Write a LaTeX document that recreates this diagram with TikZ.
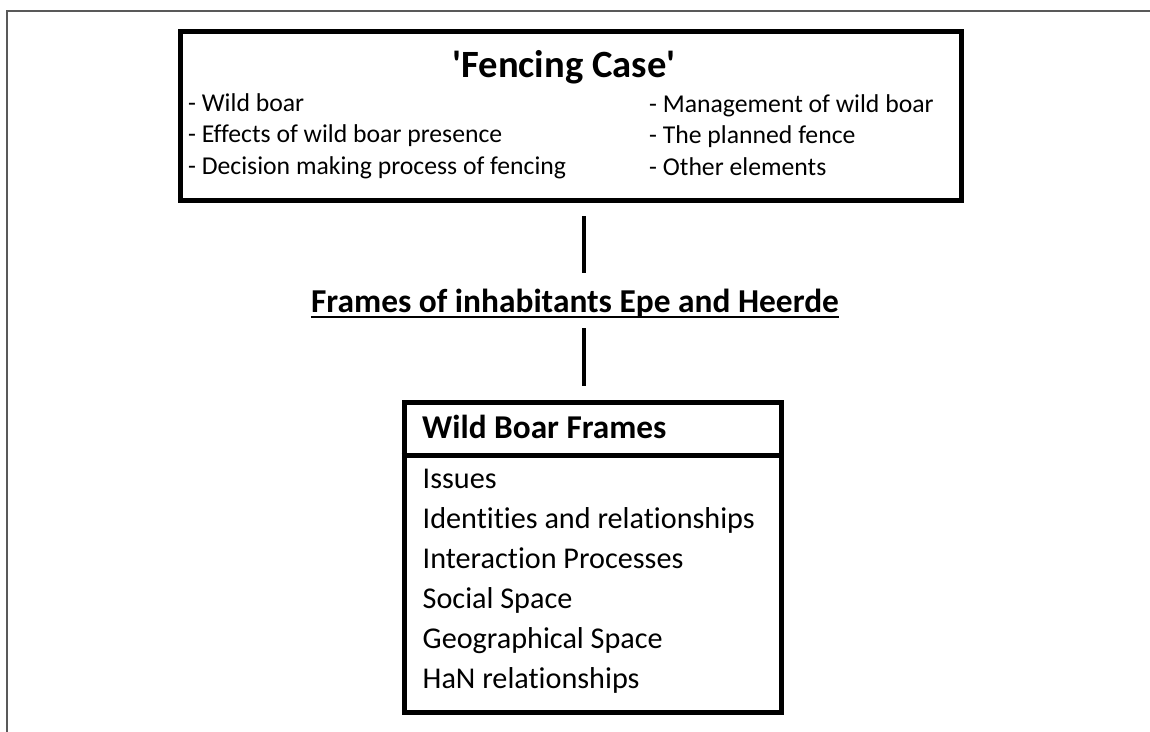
\documentclass[tikz,border=0pt]{standalone}
\usepackage{fontspec}
\setmainfont{Carlito}[Ligatures=NoCommon]
\usepackage{tikz}
\usetikzlibrary{calc}
\tikzset{
	outerline/.style={line width=2pt, color=black!65},
	casebox/.style={draw, line width=5pt, minimum width=781.5pt, minimum height=169pt, inner sep=0pt},
	framebox/.style={draw, line width=5pt, minimum width=377.7pt, minimum height=310pt, inner sep=0pt},
	link/.style={line width=4.5pt},
	titletext/.style={inner sep=0pt, anchor=base, font=\bfseries\fontsize{38.6}{46}\selectfont},
	listtext/.style={inner sep=0pt, anchor=base west, font=\fontsize{25.7}{31}\selectfont},
	labeltext/.style={inner sep=0pt, anchor=base, font=\bfseries\fontsize{33.4}{40}\selectfont},
	headtext/.style={inner sep=0pt, anchor=base west, font=\bfseries\fontsize{33.3}{40}\selectfont},
	itemtext/.style={inner sep=0pt, anchor=base west, font=\fontsize{30.2}{40}\selectfont}
}

\begin{document}
\begin{tikzpicture}[x=1pt, y=-1pt]
			%%%%% START %%%%%
			\useasboundingbox (0,0) rectangle (1150,731);
			\clip (0,0) rectangle (1150,731);
			
			\draw[outerline] (7,745) -- (7,10.5) -- (1165,10.5);
			
			% the case box
			\node[casebox] (case) at (570.75,115.5) {};
			\node[titletext] (casetitle) at (564,77) {\textquotesingle Fencing Case\textquotesingle};
			
			\node[listtext] (wildboar) at (188,111) {- Wild boar};
			\node[listtext] (effects) at (188,142.5) {- Effects of wild boar presence};
			\node[listtext] (decision) at (188,174) {- Decision making process of fencing};
			
			\node[listtext] (management) at (649,112) {- Management of wild boar};
			\node[listtext] (fence) at (649,143.5) {- The planned fence};
			\node[listtext] (other) at (649,175) {- Other elements};
			
			% the label in between
			\node[labeltext] (inhabitants) at (575,312) {Frames of inhabitants Epe and Heerde};
			\draw[line width=2pt] ([yshift=-5pt]inhabitants.base west) -- ([yshift=-5pt]inhabitants.base east);
			
			% the frames box
			\node[framebox] (frames) at (592.85,557.5) {};
			\draw[line width=5pt] ($(frames.north west)+(0,55.5)$) -- ($(frames.north east)+(0,55.5)$);
			\node[headtext] (framehead) at (422,438) {Wild Boar Frames};
			
			\node[itemtext] (issues) at (422.5,488) {Issues};
			\node[itemtext] (identities) at (422.5,528) {Identities and relationships};
			\node[itemtext] (interaction) at (422.5,568) {Interaction Processes};
			\node[itemtext] (social) at (422.5,608) {Social Space};
			\node[itemtext] (geo) at (422.5,648) {Geographical Space};
			\node[itemtext] (han) at (422.5,688) {HaN relationships};
			
			% connectors
			\coordinate (stem) at (584,0);
			\draw[link, shorten <=13.5pt, shorten >=15pt] (case.south -| stem) -- (inhabitants.north -| stem);
			\draw[link, shorten <=11pt, shorten >=14.5pt] (inhabitants.south -| stem) -- (frames.north -| stem);
			
			%%%%% END %%%%%
\end{tikzpicture}
\end{document}
